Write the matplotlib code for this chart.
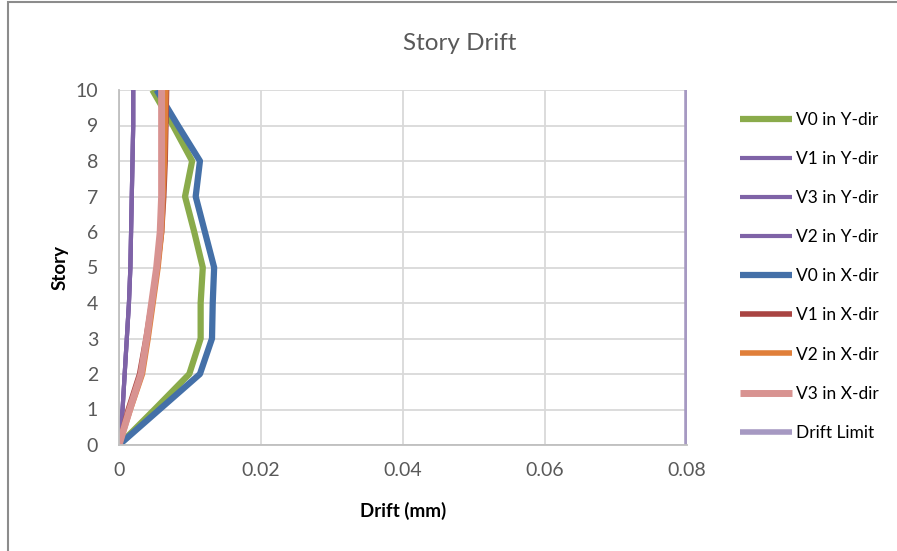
import matplotlib.pyplot as plt
from matplotlib.patches import Rectangle

plt.rcParams['font.family'] = ['Lato', 'DejaVu Sans']

# story levels and drift values per load case
stories = [0, 1, 2, 3, 4, 5, 6, 7, 8, 9, 10]
v0_y = [0, 0.0050, 0.0099, 0.0115, 0.0115, 0.0118, 0.0106, 0.0093, 0.0103, 0.0076, 0.0047]
v1_y = [0, 0.0005, 0.0008, 0.0011, 0.0014, 0.0016, 0.0017, 0.0018, 0.0019, 0.0020, 0.0020]
v3_y = [0, 0.0005, 0.0008, 0.0011, 0.0014, 0.0016, 0.0017, 0.0018, 0.0019, 0.0020, 0.0020]
v2_y = [0, 0.0005, 0.0008, 0.0011, 0.0014, 0.0016, 0.0017, 0.0018, 0.0019, 0.0020, 0.0020]
v0_x = [0, 0.0057, 0.0114, 0.0131, 0.0132, 0.0134, 0.0121, 0.0108, 0.0114, 0.0083, 0.0053]
v1_x = [0, 0.0013, 0.0029, 0.0038, 0.0046, 0.0054, 0.0060, 0.0063, 0.0065, 0.0066, 0.0067]
v2_x = [0, 0.0016, 0.0033, 0.0041, 0.0048, 0.0055, 0.0060, 0.0062, 0.0064, 0.0065, 0.0066]
v3_x = [0, 0.0015, 0.0031, 0.0039, 0.0046, 0.0053, 0.0058, 0.0060, 0.0060, 0.0060, 0.0060]
drift_limit = [0.08] * len(stories)

series = [
    ('V0 in Y-dir', v0_y, '#8aab4b', 4.5),
    ('V1 in Y-dir', v1_y, '#7f63a7', 3.0),
    ('V3 in Y-dir', v3_y, '#7f63a7', 3.0),
    ('V2 in Y-dir', v2_y, '#7f63a7', 3.0),
    ('V0 in X-dir', v0_x, '#4470a8', 4.5),
    ('V1 in X-dir', v1_x, '#a94442', 4.0),
    ('V2 in X-dir', v2_x, '#e07f3a', 4.0),
    ('V3 in X-dir', v3_x, '#d89391', 5.0),
    ('Drift Limit', drift_limit, '#a699c2', 4.0),
]

fig = plt.figure(figsize=(8.97, 5.51), dpi=100)
ax = fig.add_axes([119 / 897, 1 - 445 / 551, (687 - 119) / 897, (445 - 90) / 551])

for name, vals, col, lw in series:
    ax.plot(vals, stories, color=col, lw=lw, label=name, solid_capstyle='butt')

ax.set_xlim(0, 0.08)
ax.set_ylim(0, 10)
ax.set_xticks([0, 0.02, 0.04, 0.06, 0.08])
ax.set_xticklabels(['0', '0.02', '0.04', '0.06', '0.08'])
ax.set_yticks(range(0, 11))
ax.grid(True, color='#d9d9d9', lw=1.3)
ax.set_axisbelow(True)
for s in ['top', 'right']:
    ax.spines[s].set_visible(False)
for s in ['left', 'bottom']:
    ax.spines[s].set_color('#bfbfbf')
    ax.spines[s].set_linewidth(1.3)
ax.tick_params(length=0, labelsize=14, labelcolor='#595959')
ax.tick_params(axis='y', pad=15)
ax.tick_params(axis='x', pad=12)

ax.set_xlabel('Drift (mm)', fontsize=13.5, fontweight='bold')
ax.set_ylabel('Story', fontsize=13.5, fontweight='bold')
ax.xaxis.set_label_coords((403 - 119) / 568, (445 - 502) / 355)
ax.yaxis.set_label_coords((69 - 119) / 568, (445 - 268) / 355)
fig.text(460 / 897, 1 - 43 / 551, 'Story Drift', ha='center', va='center',
         fontsize=17.5, color='#595959')

leg = fig.legend(loc='upper left', bbox_to_anchor=(740 / 897, 1 - 112 / 551),
                 frameon=False, fontsize=12.5, handlelength=3.0, handletextpad=0.2,
                 labelspacing=1.33, borderpad=0, borderaxespad=0)

# outer chart frame
fig.patches.append(Rectangle((8 / 897, -0.05), 1.0, 1 - 2 / 551 + 0.05,
                             transform=fig.transFigure, fill=False,
                             edgecolor='#8c8c8c', lw=1.5))

fig.savefig('out.png', dpi=100)
